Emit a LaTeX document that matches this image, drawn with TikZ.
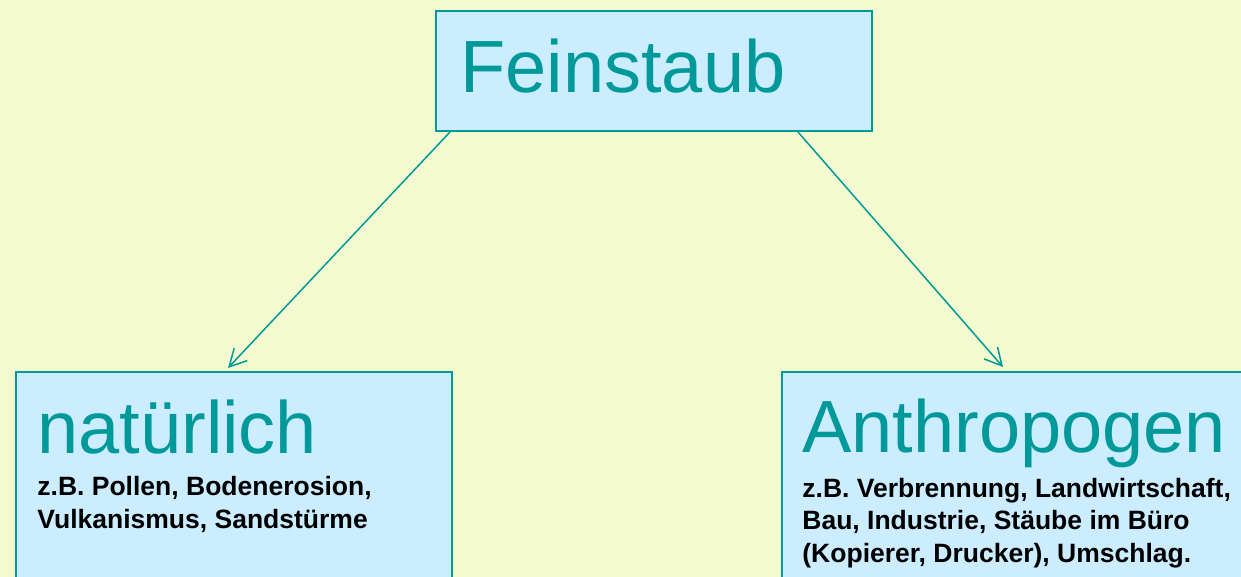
\documentclass[tikz,border=0pt]{standalone}
\usepackage{fontspec}
\setmainfont{Liberation Sans}
\usetikzlibrary{arrows.meta}
\definecolor{hintergrund}{RGB}{244,250,208}
\definecolor{kastenblau}{RGB}{204,236,255}
\definecolor{tuerkis}{RGB}{0,153,153}
\begin{document}
\begin{tikzpicture}[x=0.5pt,y=-0.5pt,
    kasten/.style={draw=tuerkis,line width=1pt,fill=kastenblau,anchor=north west,inner sep=0pt},
    titel/.style={text=tuerkis,font=\fontsize{37}{40}\selectfont,anchor=base west,inner sep=0pt},
    beispiel/.style={font=\fontsize{13.25}{16.25}\selectfont\bfseries,align=left,anchor=base west,inner sep=0pt},
    pfeil/.style={draw=tuerkis,line width=0.75pt,-{Straight Barb[length=8.5pt,width=9pt]}}]
    \clip (0,0) rectangle (1241,577);%Bildrand
    \fill[hintergrund] (0,0) rectangle (1241,577);
    \node[kasten,minimum width=218pt,minimum height=60pt] (fein) at (435,10) {};%oberer Kasten
    \node[kasten,minimum width=218pt,minimum height=130pt] (nat) at (15,371) {};
    \node[kasten,minimum width=260pt,minimum height=130pt] (anth) at (781,371) {};
    \node[titel] (feintext) at (460,93) {Feinstaub};
    \node[titel] (nattext) at (37,453) {natürlich};
    \node[titel] (anthtext) at (802,452) {Anthropogen};
    \node[beispiel] (natbsp) at (37,528) {z.B. Pollen, Bodenerosion,\\Vulkanismus, Sandstürme};%Grundlinie der letzten Zeile
    \node[beispiel] (anthbsp) at (802,562) {z.B. Verbrennung, Landwirtschaft,\\Bau, Industrie, Stäube im Büro\\(Kopierer, Drucker), Umschlag.};
    \draw[pfeil] ([xshift=7.5pt]fein.south west) -- ([xshift=106.5pt,yshift=1.5pt]nat.north west);%Pfeil nach links
    \draw[pfeil] ([xshift=-37.5pt]fein.south east) -- ([xshift=111pt,yshift=2pt]anth.north west);%Pfeil nach rechts
\end{tikzpicture}
\end{document}
